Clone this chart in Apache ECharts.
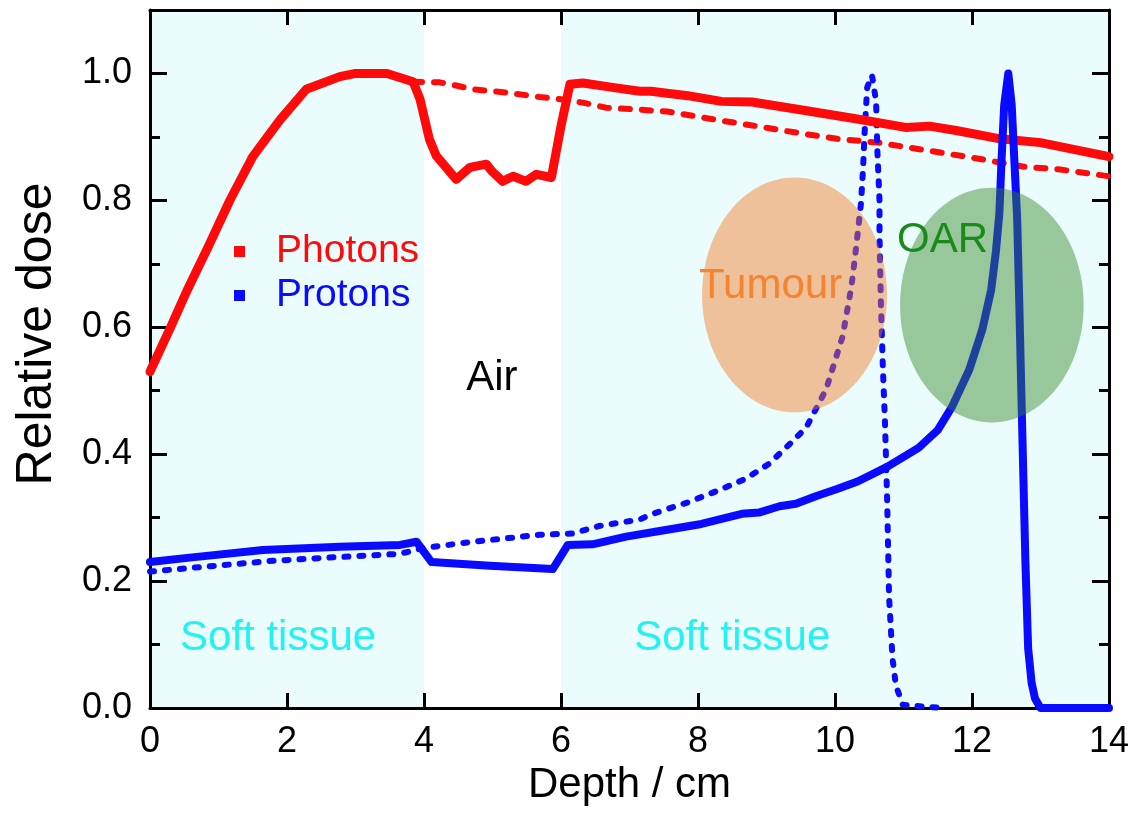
<!DOCTYPE html>
<html>
<head>
<meta charset="utf-8">
<script src="https://cdn.jsdelivr.net/npm/echarts@6/dist/echarts.min.js"></script>
<style>
html,body{margin:0;padding:0;background:#fff;}
#chart{width:1132px;height:813px;}
</style>
</head>
<body>
<div id="chart"></div>
<script>
// ---- data (depth in cm, relative dose) ----
const xTicks = [0, 2, 4, 6, 8, 10, 12, 14];
const yTicks = [0.0, 0.2, 0.4, 0.6, 0.8, 1.0];

const photonsTissue = [[0,0.53],[0.3,0.6],[0.55,0.66],[0.85,0.727],[1.17,0.801],[1.5,0.869],[1.9,0.927],[2.28,0.975],[2.77,0.995],[3.0,1.0],[3.46,1.0],[3.84,0.987],[3.94,0.96],[4.08,0.896],[4.18,0.87],[4.47,0.833],[4.67,0.852],[4.91,0.857],[5.0,0.845],[5.15,0.83],[5.3,0.838],[5.49,0.83],[5.64,0.841],[5.86,0.836],[6.0,0.917],[6.13,0.983],[6.32,0.985],[6.75,0.978],[7.15,0.972],[7.31,0.972],[7.85,0.965],[8.34,0.956],[8.79,0.955],[9.54,0.942],[10.28,0.929],[11.03,0.915],[11.38,0.917],[11.77,0.91],[12.41,0.897],[13.0,0.891],[13.5,0.88],[14.0,0.869]];

const photonsWater = [[3.84,0.987],[4.23,0.986],[4.47,0.981],[4.71,0.975],[5.2,0.97],[5.69,0.963],[6.03,0.959],[6.32,0.954],[6.66,0.946],[7.15,0.943],[7.55,0.94],[8.15,0.929],[8.79,0.918],[9.54,0.905],[10.03,0.897],[10.63,0.891],[11.27,0.88],[12.02,0.867],[12.76,0.853],[13.26,0.849],[14.0,0.838]];

const protonsTissue = [[0,0.23],[0.58,0.237],[1.65,0.249],[2.77,0.254],[3.65,0.257],[3.89,0.262],[4.11,0.23],[4.96,0.224],[5.88,0.219],[6.1,0.257],[6.46,0.258],[6.95,0.27],[7.55,0.281],[8.05,0.29],[8.64,0.306],[8.89,0.308],[9.19,0.318],[9.43,0.322],[9.73,0.334],[10.03,0.345],[10.33,0.357],[10.76,0.38],[11.22,0.41],[11.5,0.438],[11.71,0.475],[11.96,0.533],[12.15,0.596],[12.28,0.659],[12.35,0.72],[12.4,0.78],[12.43,0.86],[12.47,0.95],[12.53,1.0],[12.58,0.95],[12.62,0.86],[12.66,0.77],[12.69,0.64],[12.72,0.5],[12.78,0.23],[12.82,0.094],[12.87,0.04],[12.92,0.015],[13.0,0],[14,0]];

const protonsWater = [[0,0.215],[0.83,0.223],[1.8,0.232],[2.77,0.238],[3.65,0.243],[3.99,0.252],[4.71,0.262],[5.69,0.273],[6.17,0.275],[6.56,0.287],[7.15,0.297],[7.31,0.305],[7.85,0.324],[8.3,0.343],[8.69,0.361],[9.04,0.385],[9.33,0.415],[9.58,0.442],[9.87,0.502],[10.11,0.585],[10.24,0.664],[10.31,0.727],[10.38,0.796],[10.41,0.85],[10.43,0.902],[10.47,0.978],[10.54,0.997],[10.6,0.956],[10.62,0.875],[10.65,0.8],[10.65,0.743],[10.67,0.639],[10.7,0.533],[10.73,0.45],[10.76,0.335],[10.79,0.174],[10.84,0.078],[10.89,0.035],[10.99,0.005],[11.55,0]];

// tissue slabs (cm)
const tissueRegions = [[0, 4], [6, 14]];

// regions of interest: centre x, centre y, half-width (cm), half-height (dose)
const roiNames = ['Tumour', 'OAR'];
const roiCenterX = [9.41, 12.29];
const roiCenterY = [0.651, 0.635];
const roiHalfW = [1.35, 1.34];
const roiHalfH = [0.185, 0.185];

// text annotations (data coordinates)
const noteTexts = ['Tumour', 'OAR', 'Air', 'Soft tissue', 'Soft tissue'];
const noteX = [9.06, 11.57, 4.99, 1.87, 8.5];
const noteY = [0.665, 0.737, 0.52, 0.11, 0.11];

// ---- styling ----
const FONT = '"Liberation Sans", Arial, Helvetica, sans-serif';
const RED = '#ff0a0a';
const BLUE = '#0a0aff';
const roiColors = ['rgba(244,122,38,0.45)', 'rgba(50,135,40,0.45)'];
const noteColors = ['#f6832f', '#1b8a1b', '#000000', '#22f2f2', '#22f2f2'];
const Y_MAX = 1.1;

const chart = echarts.init(document.getElementById('chart'), null, {renderer: 'canvas'});

const axisLineStyle = {color: '#000', width: 3};

const option = {
  animation: false,
  backgroundColor: '#ffffff',
  grid: {left: 150, right: 22, top: 10, bottom: 105},
  legend: {
    orient: 'vertical',
    left: 229,
    top: 227,
    icon: 'rect',
    itemWidth: 11,
    itemHeight: 11,
    itemGap: 5,
    selectedMode: false,
    data: [
      {name: 'Photons', textStyle: {color: RED}},
      {name: 'Protons', textStyle: {color: BLUE}}
    ],
    textStyle: {fontFamily: FONT, fontSize: 39, padding: [0, 0, 0, 26]}
  },
  xAxis: [
    {
      type: 'value', position: 'bottom', min: xTicks[0], max: xTicks[xTicks.length - 1], interval: 2,
      name: 'Depth / cm', nameLocation: 'middle', nameGap: 52,
      nameTextStyle: {fontFamily: FONT, fontSize: 42, color: '#000'},
      axisLine: {show: true, onZero: false, lineStyle: axisLineStyle},
      axisTick: {show: true, inside: true, length: 15, lineStyle: {color: '#000', width: 3}},
      axisLabel: {fontFamily: FONT, fontSize: 36, color: '#000', margin: 16},
      splitLine: {show: false}
    },
    {
      type: 'value', position: 'top', min: xTicks[0], max: xTicks[xTicks.length - 1], interval: 2,
      axisLine: {show: true, onZero: false, lineStyle: axisLineStyle},
      axisTick: {show: true, inside: true, length: 15, lineStyle: {color: '#000', width: 3}},
      axisLabel: {show: false},
      splitLine: {show: false}
    }
  ],
  yAxis: [
    {
      type: 'value', position: 'left', min: 0, max: Y_MAX, interval: 0.2,
      name: 'Relative dose', nameLocation: 'middle', nameGap: 88, nameRotate: 90,
      nameTextStyle: {fontFamily: FONT, fontSize: 50, color: '#000', padding: [0, 0, 0, 50]},
      axisLine: {show: true, onZero: false, lineStyle: axisLineStyle},
      axisTick: {show: true, inside: true, length: 17, lineStyle: {color: '#000', width: 3}},
      minorTick: {show: true, splitNumber: 2, length: 10, lineStyle: {color: '#000', width: 3}},
      axisLabel: {
        fontFamily: FONT, fontSize: 36, color: '#000', margin: 18, showMaxLabel: false,
        formatter: v => (yTicks.some(t => Math.abs(t - v) < 1e-6) ? v.toFixed(1) : '')
      },
      splitLine: {show: false}
    },
    {
      type: 'value', position: 'right', min: 0, max: Y_MAX, interval: 0.2,
      axisLine: {show: true, onZero: false, lineStyle: axisLineStyle},
      axisTick: {show: true, inside: true, length: 17, lineStyle: {color: '#000', width: 3}},
      minorTick: {show: true, splitNumber: 2, length: 10, lineStyle: {color: '#000', width: 3}},
      axisLabel: {show: false},
      splitLine: {show: false}
    }
  ],
  series: [
    {
      name: 'Tissue', type: 'custom', xAxisIndex: 0, yAxisIndex: 0, silent: true, z: 0,
      data: tissueRegions,
      renderItem: function (params, api) {
        const p0 = api.coord([api.value(0), Y_MAX]);
        const p1 = api.coord([api.value(1), 0]);
        return {
          type: 'rect',
          shape: {x: p0[0], y: p0[1], width: p1[0] - p0[0], height: p1[1] - p0[1]},
          style: {fill: '#ebfcfc', stroke: null, lineWidth: 0}
        };
      }
    },
    {
      name: 'Photons', type: 'line', xAxisIndex: 0, yAxisIndex: 0,
      data: photonsTissue, showSymbol: false, symbol: 'none', z: 3,
      lineStyle: {color: RED, width: 9, cap: 'round', join: 'round'},
      itemStyle: {color: RED}
    },
    {
      name: 'Photons', type: 'line', xAxisIndex: 0, yAxisIndex: 0,
      data: photonsWater, showSymbol: false, symbol: 'none', z: 2,
      lineStyle: {color: RED, width: 6, type: [9, 12], cap: 'round', join: 'round'},
      itemStyle: {color: RED}
    },
    {
      name: 'Protons', type: 'line', xAxisIndex: 0, yAxisIndex: 0,
      data: protonsTissue, showSymbol: false, symbol: 'none', z: 3,
      lineStyle: {color: BLUE, width: 8, cap: 'round', join: 'round'},
      itemStyle: {color: BLUE}
    },
    {
      name: 'Protons', type: 'line', xAxisIndex: 0, yAxisIndex: 0,
      data: protonsWater, showSymbol: false, symbol: 'none', z: 2,
      lineStyle: {color: BLUE, width: 6, type: [4, 11], cap: 'round', join: 'round'},
      itemStyle: {color: BLUE}
    },
    {
      name: 'ROI', type: 'custom', xAxisIndex: 0, yAxisIndex: 0, silent: true, z: 5,
      data: roiNames.map((n, i) => [roiCenterX[i], roiCenterY[i], roiHalfW[i], roiHalfH[i]]),
      renderItem: function (params, api) {
        const c = api.coord([api.value(0), api.value(1)]);
        const s = api.size([api.value(2), api.value(3)]);
        return {
          type: 'ellipse',
          shape: {cx: c[0], cy: c[1], rx: s[0], ry: s[1]},
          style: {fill: roiColors[params.dataIndex], stroke: null}
        };
      }
    },
    {
      name: 'Notes', type: 'custom', xAxisIndex: 0, yAxisIndex: 0, silent: true, z: 6,
      data: noteTexts.map((t, i) => [noteX[i], noteY[i]]),
      renderItem: function (params, api) {
        const c = api.coord([api.value(0), api.value(1)]);
        return {
          type: 'text',
          x: c[0], y: c[1],
          style: {
            text: noteTexts[params.dataIndex],
            fill: noteColors[params.dataIndex],
            font: '42px ' + FONT,
            align: 'center',
            verticalAlign: 'middle'
          }
        };
      }
    }
  ]
};

chart.setOption(option);
</script>
</body>
</html>
